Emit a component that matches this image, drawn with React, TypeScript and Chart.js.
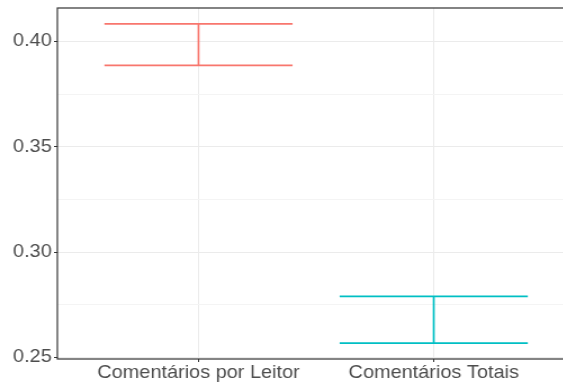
import { useEffect, useRef } from "react";
import { Chart, registerables } from "chart.js";

Chart.register(...registerables);

// Error-bar data: one interval per category
const categories = ["Comentários por Leitor", "Comentários Totais"];
const upper = [0.4083, 0.279];
const lower = [0.3886, 0.2569];
const colors = ["#F8766D", "#00BFC4"];

// Y axis ticks
const yMajorTicks = [0.25, 0.3, 0.35, 0.4];
const yMinorTicks = [0.275, 0.325, 0.375];
const yTickLabels = ["0.25", "0.30", "0.35", "0.40"];

// Styling constants
const BAR_HALF_WIDTH = 0.4;
const X_EXPAND = 0.6;
const STRETCH_X = 1.125;
const CANVAS_W = 511;
const CANVAS_H = 385;
const FONT = { family: "'Liberation Sans', Arial, Helvetica, sans-serif", size: 17.7 };
const TEXT_COLOR = "#4D4D4D";
const AXIS_COLOR = "#333333";

const isMajor = (v: number) => yMajorTicks.some((m) => Math.abs(m - v) < 1e-9);

const panelBorder = {
  id: "panelBorder",
  afterDraw(chart: any) {
    const { ctx, chartArea } = chart;
    ctx.save();
    ctx.strokeStyle = AXIS_COLOR;
    ctx.lineWidth = 1.2;
    ctx.strokeRect(chartArea.left, chartArea.top, chartArea.right - chartArea.left, chartArea.bottom - chartArea.top);
    ctx.restore();
  },
};

export default function App() {
  const canvasRef = useRef<HTMLCanvasElement | null>(null);

  useEffect(() => {
    if (!canvasRef.current) return;

    const allLow = Math.min(...lower);
    const allHigh = Math.max(...upper);
    const pad = (allHigh - allLow) * 0.05;

    const datasets = categories.map((name, i) => {
      const x = i + 1;
      return {
        label: name,
        data: [
          { x: x - BAR_HALF_WIDTH, y: upper[i] },
          { x: x + BAR_HALF_WIDTH, y: upper[i] },
          { x, y: null },
          { x, y: upper[i] },
          { x, y: lower[i] },
          { x, y: null },
          { x: x - BAR_HALF_WIDTH, y: lower[i] },
          { x: x + BAR_HALF_WIDTH, y: lower[i] },
        ],
        borderColor: colors[i],
        borderWidth: 1.7,
        pointRadius: 0,
        pointHoverRadius: 0,
        spanGaps: false,
        tension: 0,
        fill: false,
      };
    });

    const chart = new Chart(canvasRef.current, {
      type: "line",
      data: { datasets: datasets as any },
      plugins: [panelBorder],
      options: {
        animation: false,
        responsive: false,
        devicePixelRatio: 1,
        layout: { padding: { top: 8, left: 0, right: 0, bottom: 0 } },
        plugins: { legend: { display: false }, tooltip: { enabled: false } },
        scales: {
          x: {
            type: "linear",
            min: 1 - X_EXPAND,
            max: categories.length + X_EXPAND,
            afterBuildTicks: (s: any) => {
              s.ticks = categories.map((_, i) => ({ value: i + 1 }));
            },
            afterFit: (s: any) => {
              s.height = 26;
              s.paddingLeft = 0;
              s.paddingRight = 0;
            },
            ticks: {
              autoSkip: false,
              maxRotation: 0,
              color: TEXT_COLOR,
              font: FONT,
              padding: 0,
              callback: (v: any) => categories[Math.round(Number(v)) - 1] ?? "",
            },
            grid: { color: "#EBEBEB", lineWidth: 1, tickColor: AXIS_COLOR, tickLength: 3 },
            border: { display: false },
          },
          y: {
            type: "linear",
            min: allLow - pad,
            max: allHigh + pad,
            afterBuildTicks: (s: any) => {
              s.ticks = [...yMajorTicks, ...yMinorTicks].sort((a, b) => a - b).map((v) => ({ value: v }));
            },
            afterFit: (s: any) => {
              s.width = 51;
              s.paddingTop = 0;
              s.paddingBottom = 0;
            },
            ticks: {
              autoSkip: false,
              color: TEXT_COLOR,
              font: FONT,
              padding: 2,
              callback: (v: any) => {
                const idx = yMajorTicks.findIndex((m) => Math.abs(m - Number(v)) < 1e-9);
                return idx >= 0 ? yTickLabels[idx] : "";
              },
            },
            grid: {
              color: (c: any) => (c.tick && isMajor(c.tick.value) ? "#EBEBEB" : "#F4F4F4"),
              lineWidth: 1,
              tickColor: (c: any) => (c.tick && isMajor(c.tick.value) ? AXIS_COLOR : "rgba(0,0,0,0)"),
              tickLength: 3,
            },
            border: { display: false },
          },
        },
      },
    });

    return () => chart.destroy();
  }, []);

  return (
    <div
      style={{
        position: "fixed",
        left: 0,
        top: 0,
        width: 563,
        height: 385,
        overflow: "hidden",
        background: "#ffffff",
      }}
    >
      <div style={{ width: CANVAS_W, height: CANVAS_H, transform: `scaleX(${STRETCH_X})`, transformOrigin: "0 0" }}>
        <canvas ref={canvasRef} width={CANVAS_W} height={CANVAS_H} />
      </div>
    </div>
  );
}
